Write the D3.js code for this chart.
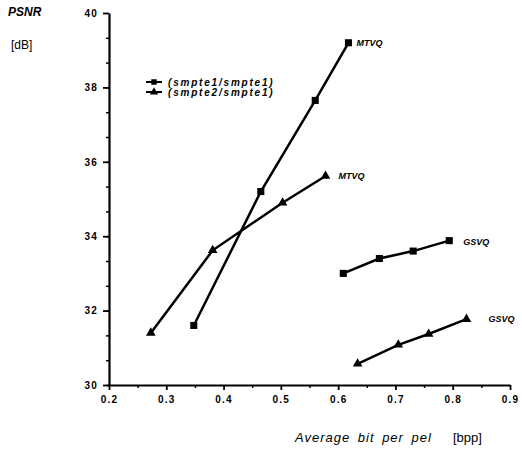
<!DOCTYPE html>
<html>
<head>
<meta charset="utf-8">
<script src="https://cdn.jsdelivr.net/npm/d3@7"></script>
<style>
  body { margin: 0; background: #fff; }
  text { font-family: "Liberation Sans", Arial, sans-serif; fill: #000; }
</style>
</head>
<body>
<div id="chart"></div>
<script>
//data
var mtvqSq = [[0.348, 31.6], [0.465, 35.2], [0.56, 37.65], [0.618, 39.2]];
var mtvqTri = [[0.273, 31.4], [0.381, 33.62], [0.503, 34.9], [0.578, 35.62]];
var gsvqSq = [[0.609, 33.0], [0.672, 33.4], [0.731, 33.6], [0.794, 33.88]];
var gsvqTri = [[0.634, 30.57], [0.705, 31.08], [0.758, 31.37], [0.824, 31.77]];
var legendNames = ['(smpte1/smpte1)', '(smpte2/smpte1)'];
var xTicks = [0.2, 0.3, 0.4, 0.5, 0.6, 0.7, 0.8, 0.9];
var yTicks = [30, 32, 34, 36, 38, 40];

var margin = {top: 13, left: 109};
var width = 401, height = 372;

var svg = d3.select('#chart').append('svg')
  .attr('width', 522)
  .attr('height', 450);

var g = svg.append('g')
  .attr('transform', 'translate(' + margin.left + ',' + margin.top + ')');

var x = d3.scaleLinear().domain([0.2, 0.9]).range([0, width]);
var y = d3.scaleLinear().domain([30, 40]).range([height, 0]);

//minor ticks
g.append('g')
  .attr('transform', 'translate(0,' + height + ')')
  .call(d3.axisBottom(x).tickValues(d3.range(0.25, 0.9, 0.1)).tickSize(3).tickFormat(''))
  .call(function(a) { a.select('.domain').remove(); })
  .selectAll('line').attr('stroke-width', 1.5);

g.append('g')
  .call(d3.axisLeft(y).tickValues(d3.range(0, 15).map(function(i) { return 30 + i * 2 / 3; })).tickSize(3).tickFormat(''))
  .call(function(a) { a.select('.domain').remove(); })
  .selectAll('line').attr('stroke-width', 1.5);

//x axis
var xAxis = g.append('g')
  .attr('transform', 'translate(0,' + height + ')')
  .call(d3.axisBottom(x).tickValues(xTicks).tickSize(5).tickPadding(6).tickSizeOuter(0).tickFormat(d3.format('.1f')));
xAxis.select('.domain').attr('stroke-width', 2.2);
xAxis.selectAll('line').attr('stroke-width', 1.8);
xAxis.selectAll('text')
  .style('font-size', '10px').style('font-weight', 'bold').style('letter-spacing', '1.2px');

//y axis
var yAxis = g.append('g')
  .call(d3.axisLeft(y).tickValues(yTicks).tickSize(6).tickPadding(5).tickSizeOuter(0));
yAxis.select('.domain').attr('stroke-width', 2.2);
yAxis.selectAll('line').attr('stroke-width', 1.8);
yAxis.selectAll('text')
  .style('font-size', '10px').style('font-weight', 'bold').style('letter-spacing', '1.2px');

//lines
var line = d3.line()
  .x(function(d) { return x(d[0]); })
  .y(function(d) { return y(d[1]); });

var series = [
  {data: mtvqSq, shape: 'sq', label: 'MTVQ', dx: 8, dy: 0},
  {data: mtvqTri, shape: 'tri', label: 'MTVQ', dx: 13, dy: 0},
  {data: gsvqSq, shape: 'sq', label: 'GSVQ', dx: 14, dy: 1},
  {data: gsvqTri, shape: 'tri', label: 'GSVQ', dx: 22, dy: 0}
];

var sqSym = d3.symbol().type(d3.symbolSquare).size(50);
var triSym = d3.symbol().type(d3.symbolTriangle).size(40);

series.forEach(function(s) {
  g.append('path')
    .attr('d', line(s.data))
    .attr('fill', 'none')
    .attr('stroke', '#000')
    .attr('stroke-width', 2.5);

  g.selectAll(null)
    .data(s.data)
    .enter().append('path')
    .attr('transform', function(d) { return 'translate(' + x(d[0]) + ',' + y(d[1]) + ')'; })
    .attr('d', s.shape == 'sq' ? sqSym : triSym)
    .attr('fill', '#000');

  var last = s.data[s.data.length - 1];
  g.append('text')
    .attr('x', x(last[0]) + s.dx)
    .attr('y', y(last[1]) + s.dy)
    .attr('dy', '0.35em')
    .style('font-size', '9px')
    .style('font-weight', 'bold')
    .style('font-style', 'italic')
    .text(s.label);
});

//legend
var legend = svg.append('g')
  .selectAll('g')
  .data(legendNames)
  .enter().append('g')
  .attr('transform', function(d, i) { return 'translate(146,' + (82 + i * 10) + ')'; });

legend.append('line')
  .attr('x1', 0).attr('x2', 16)
  .attr('stroke', '#000').attr('stroke-width', 2);

legend.append('path')
  .attr('transform', 'translate(8,0)')
  .attr('d', function(d, i) { return i == 0 ? d3.symbol().type(d3.symbolSquare).size(30)() : d3.symbol().type(d3.symbolTriangle).size(30)(); })
  .attr('fill', '#000');

legend.append('text')
  .attr('x', 22)
  .attr('dy', '0.35em')
  .style('font-size', '10px')
  .style('font-weight', 'bold')
  .style('font-style', 'italic')
  .style('letter-spacing', '1.8px')
  .text(function(d) { return d; });

//axis titles
svg.append('text')
  .attr('x', 8).attr('y', 16)
  .style('font-size', '12px').style('font-style', 'italic').style('font-weight', 'bold')
  .text('PSNR');
svg.append('text')
  .attr('x', 11).attr('y', 49)
  .style('font-size', '12px')
  .text('[dB]');
svg.append('text')
  .attr('x', 295).attr('y', 442)
  .style('font-size', '13px').style('font-style', 'italic')
  .style('letter-spacing', '1px').style('word-spacing', '3px')
  .text('Average bit per pel');
svg.append('text')
  .attr('x', 453).attr('y', 442)
  .style('font-size', '13px')
  .text('[bpp]');
</script>
</body>
</html>
